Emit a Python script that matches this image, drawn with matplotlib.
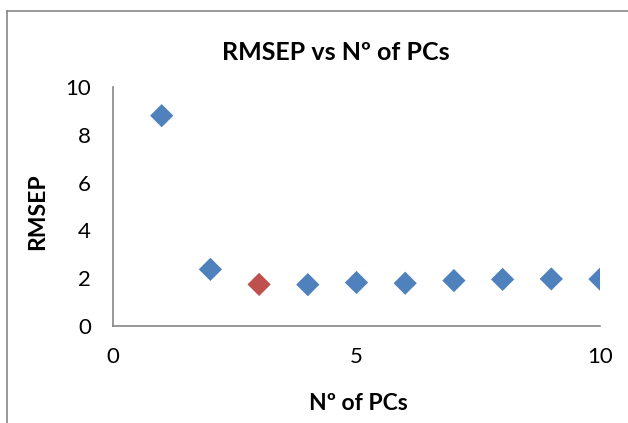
import matplotlib
matplotlib.use("Agg")
import matplotlib.pyplot as plt
from matplotlib.lines import Line2D

# ── data ──────────────────────────────────────────────
n_pcs  = [1, 2, 3, 4, 5, 6, 7, 8, 9, 10]
rmsep  = [8.80, 2.37, 1.74, 1.73, 1.82, 1.79, 1.90, 1.95, 1.97, 1.96]
best_k = 3          # highlighted (red) point

BLUE = "#4F81BD"
RED  = "#C0504D"
GREY = "#868686"

plt.rcParams["font.family"] = ["Lato", "DejaVu Sans"]

fig = plt.figure(figsize=(6.28, 4.23), dpi=100)
ax = fig.add_axes([113 / 628, 1 - 326 / 423, (600 - 113) / 628, (326 - 87) / 423])

colors = [RED if k == best_k else BLUE for k in n_pcs]
ax.scatter(n_pcs, rmsep, marker="D", s=140, c=colors, edgecolors="none", zorder=3)

ax.set_xlim(0, 10)
ax.set_ylim(0, 10)
ax.set_xticks([0, 5, 10])
ax.set_yticks([0, 2, 4, 6, 8, 10])
ax.tick_params(length=0, labelsize=16)
ax.tick_params(axis="x", pad=15)
ax.tick_params(axis="y", pad=16)

for s in ["top", "right"]:
    ax.spines[s].set_visible(False)
for s in ["left", "bottom"]:
    ax.spines[s].set_color(GREY)
    ax.spines[s].set_linewidth(1.2)

fig.text(336 / 628, 1 - 52 / 423, "RMSEP vs Nº of PCs", ha="center", va="center",
         fontsize=18, fontweight="bold")
fig.text(358 / 628, 1 - 403 / 423, "Nº of PCs", ha="center", va="center",
         fontsize=16.5, fontweight="bold")
fig.text(38 / 628, 1 - 212 / 423, "RMSEP", ha="center", va="center",
         fontsize=16.5, fontweight="bold", rotation=90)

# chart frame (left and top edges visible in the crop)
fig.add_artist(Line2D([7 / 628, 7 / 628], [0, 1 - 11 / 423], transform=fig.transFigure,
                      color=GREY, lw=1.2))
fig.add_artist(Line2D([7 / 628, 1], [1 - 11 / 423, 1 - 11 / 423], transform=fig.transFigure,
                      color=GREY, lw=1.2))

fig.savefig("out.png", dpi=100)
